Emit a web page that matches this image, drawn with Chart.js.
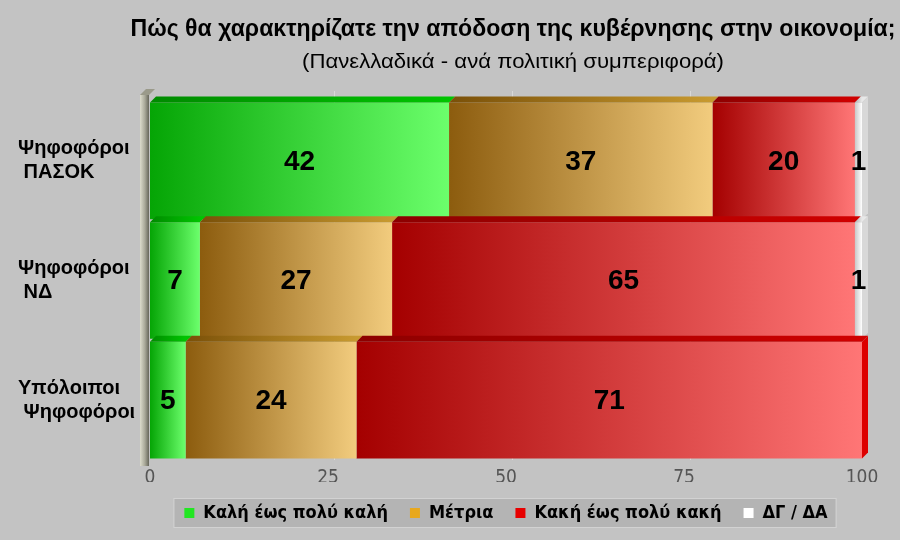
<!DOCTYPE html>
<html>
<head>
<meta charset="utf-8">
<script src="https://cdn.jsdelivr.net/npm/chart.js@4/dist/chart.umd.min.js"></script>
<style>
html,body{margin:0;padding:0;background:#c3c3c3;}
#wrap{width:900px;height:540px;}
</style>
</head>
<body>
<div id="wrap"><canvas id="c" width="900" height="540"></canvas></div>
<script>
// ---- data ----
const categories = [["Ψηφοφόροι", " ΠΑΣΟΚ"], ["Ψηφοφόροι", " ΝΔ"], ["Υπόλοιποι", " Ψηφοφόροι"]];
const seriesNames = ["Καλή έως πολύ καλή", "Μέτρια", "Κακή έως πολύ κακή", "ΔΓ / ΔΑ"];
const goodValues = [42, 7, 5];
const moderateValues = [37, 27, 24];
const badValues = [20, 65, 71];
const dkValues = [1, 1, 0];
const xTicks = [0, 25, 50, 75, 100];
const titleText = "Πώς θα χαρακτηρίζατε την απόδοση της κυβέρνησης στην οικονομία;";
const subtitleText = "(Πανελλαδικά - ανά πολιτική συμπεριφορά)";

// ---- styles ----
const allSeries = [goodValues, moderateValues, badValues, dkValues];
const gradFrom = ["#05a505", "#8c5c0e", "#a40000", "#c8c8c8"];
const gradTo = ["#6cff6c", "#f2cc7e", "#ff7676", "#ffffff"];
const topFrom = ["#008a00", "#7a5008", "#8c0000", "#b0b0b0"];
const topTo = ["#00c400", "#c89a30", "#d00000", "#e8e8e8"];
const sideCol = ["#00c000", "#d0a040", "#dd0000", "#d8d8d8"];
const legendColors = ["#22e622", "#e8a81e", "#e80000", "#ffffff"];
const NARROW = "'Liberation Sans Narrow','Arial Narrow','DejaVu Sans Condensed',sans-serif";
const ARIAL = "'Liberation Sans',Arial,sans-serif";
const DEPTH = 6;
// title layout: centre x, centre y, target width, font size
const titleStyle = { x: 513, y: 30, width: 765, size: 23, weight: 'bold' };
const subtitleStyle = { x: 513, y: 62, width: 422, size: 21, weight: 'normal' };

function segBounds(chart, di, i) {
  let start = 0;
  for (let k = 0; k < di; k++) start += allSeries[k][i];
  const xs = chart.scales.x;
  return [xs.getPixelForValue(start), xs.getPixelForValue(start + allSeries[di][i])];
}

function makeBg(di) {
  return function (ctx) {
    const chart = ctx.chart;
    if (ctx.type !== 'data' || !chart.chartArea || !chart.scales.x) return gradTo[di];
    const [x0, x1] = segBounds(chart, di, ctx.dataIndex);
    if (x1 - x0 < 2) return gradTo[di];
    const g = chart.ctx.createLinearGradient(x0, 0, x1, 0);
    g.addColorStop(0, gradFrom[di]);
    g.addColorStop(1, gradTo[di]);
    return g;
  };
}

function drawFittedText(c, text, st) {
  c.save();
  c.font = st.weight + ' ' + st.size + 'px ' + ARIAL;
  const w = c.measureText(text).width;
  const sx = st.width / w;
  c.translate(st.x, st.y);
  c.scale(sx, 1);
  c.fillStyle = '#000';
  c.textAlign = 'center';
  c.textBaseline = 'middle';
  c.fillText(text, 0, 0);
  c.restore();
}

const decorPlugin = {
  id: 'decor',
  beforeDraw(chart) {
    const c = chart.ctx;
    c.save();
    c.fillStyle = '#c3c3c3';
    c.fillRect(0, 0, chart.width, chart.height);
    // legend background box
    const lg = chart.legend;
    if (lg && lg.legendHitBoxes && lg.legendHitBoxes.length) {
      const hb = lg.legendHitBoxes;
      let l = Infinity, r = -Infinity, t = Infinity, b = -Infinity;
      hb.forEach(h => { l = Math.min(l, h.left); r = Math.max(r, h.left + h.width); t = Math.min(t, h.top); b = Math.max(b, h.top + h.height); });
      c.fillStyle = '#b4b4b4';
      c.fillRect(l - 10, t - 5, r - l + 18, b - t + 10);
      c.strokeStyle = '#d2d2d2';
      c.lineWidth = 1;
      c.strokeRect(l - 10.5, t - 5.5, r - l + 19, b - t + 11);
    }
    c.restore();
    drawFittedText(c, titleText, titleStyle);
    drawFittedText(c, subtitleText, subtitleStyle);
  },
  beforeDatasetsDraw(chart) {
    const c = chart.ctx, a = chart.chartArea, xs = chart.scales.x;
    c.save();
    // back wall grid lines
    c.strokeStyle = '#d8d8d8';
    c.lineWidth = 1;
    xTicks.forEach(v => {
      if (v === 0 || v === 100) return;
      const x = Math.round(xs.getPixelForValue(v)) + DEPTH + 0.5;
      c.beginPath(); c.moveTo(x, a.top - 10); c.lineTo(x, a.bottom); c.stroke();
    });
    // left wall
    const wl = a.left - 10, wr = a.left - 1;
    const g = c.createLinearGradient(wl, 0, wr, 0);
    g.addColorStop(0, '#dcdccc'); g.addColorStop(0.55, '#a8a898'); g.addColorStop(1, '#66665a');
    c.fillStyle = g;
    c.fillRect(wl, a.top - 6, wr - wl, a.bottom - a.top + 12);
    c.fillStyle = '#9a9a8a';
    c.beginPath();
    c.moveTo(wl, a.top - 6); c.lineTo(wl + DEPTH, a.top - 6 - DEPTH); c.lineTo(wr + DEPTH, a.top - 6 - DEPTH); c.lineTo(wr, a.top - 6);
    c.closePath(); c.fill();
    c.restore();
  },
  afterDatasetsDraw(chart) {
    const c = chart.ctx;
    c.save();
    const n = categories.length;
    for (let i = 0; i < n; i++) {
      let lastDi = -1;
      for (let di = 0; di < allSeries.length; di++) {
        const el = chart.getDatasetMeta(di).data[i];
        if (!el || allSeries[di][i] <= 0) continue;
        lastDi = di;
        const x0 = Math.min(el.base, el.x), x1 = Math.max(el.base, el.x);
        const top = el.y - el.height / 2;
        const g = c.createLinearGradient(x0, 0, x1, 0);
        g.addColorStop(0, topFrom[di]); g.addColorStop(1, topTo[di]);
        c.fillStyle = g;
        c.beginPath();
        c.moveTo(x0, top); c.lineTo(x0 + DEPTH, top - DEPTH); c.lineTo(x1 + DEPTH, top - DEPTH); c.lineTo(x1, top);
        c.closePath(); c.fill();
      }
      if (lastDi >= 0) {
        const el = chart.getDatasetMeta(lastDi).data[i];
        const x1 = Math.max(el.base, el.x);
        const top = el.y - el.height / 2, bot = el.y + el.height / 2;
        c.fillStyle = sideCol[lastDi];
        c.beginPath();
        c.moveTo(x1, top); c.lineTo(x1 + DEPTH, top - DEPTH); c.lineTo(x1 + DEPTH, bot - DEPTH); c.lineTo(x1, bot);
        c.closePath(); c.fill();
      }
    }
    // value labels
    c.fillStyle = '#000';
    c.font = "bold 28px " + ARIAL;
    c.textAlign = 'center';
    c.textBaseline = 'middle';
    for (let di = 0; di < allSeries.length; di++) {
      chart.getDatasetMeta(di).data.forEach((el, i) => {
        const v = allSeries[di][i];
        if (v <= 0) return;
        c.fillText(String(v), (el.base + el.x) / 2, el.y + 1);
      });
    }
    c.restore();
  }
};

const datasets = seriesNames.map((name, di) => ({
  label: name,
  data: allSeries[di],
  backgroundColor: makeBg(di),
  borderWidth: 0,
  barPercentage: 1,
  categoryPercentage: 0.975
}));

new Chart(document.getElementById('c'), {
  type: 'bar',
  data: { labels: categories, datasets },
  plugins: [decorPlugin],
  options: {
    indexAxis: 'y',
    responsive: false,
    animation: false,
    devicePixelRatio: 1,
    layout: { padding: { left: 18, right: 38, top: 101, bottom: 8 } },
    scales: {
      x: {
        stacked: true, min: 0, max: 100,
        grid: { display: false, drawTicks: false }, border: { display: false },
        afterBuildTicks: (s) => { s.ticks = xTicks.map(v => ({ value: v })); },
        afterFit: (s) => { s.height = 22; },
        ticks: { color: '#555555', font: { family: NARROW, size: 19 }, padding: 7, maxRotation: 0 }
      },
      y: {
        stacked: true,
        grid: { display: false }, border: { display: false },
        afterFit: (s) => { s.width = 132; },
        ticks: { crossAlign: 'far', color: '#000', font: { family: ARIAL, size: 20, weight: 'bold', lineHeight: 1.2 } }
      }
    },
    plugins: {
      title: { display: false },
      subtitle: { display: false },
      legend: {
        position: 'bottom', fullSize: false,
        labels: {
          color: '#000', font: { family: NARROW, size: 18, weight: 'bold' },
          boxWidth: 10, boxHeight: 10, padding: 22,
          generateLabels: () => seriesNames.map((n, i) => ({
            text: n, fillStyle: legendColors[i], strokeStyle: legendColors[i], lineWidth: 0, hidden: false, datasetIndex: i
          }))
        }
      },
      tooltip: { enabled: false }
    }
  }
});
</script>
</body>
</html>
